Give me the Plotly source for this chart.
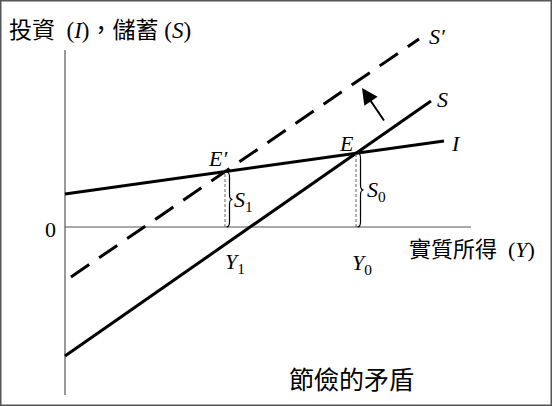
import plotly.graph_objects as go

# values (income on x, investment / saving on y)
inc_I = [0, 37.9]
invest = [3.3, 8.6]
inc_S = [0, 36.6]
saving = [-12.9, 12.6]
inc_S2 = [0.6, 35.4]
saving2 = [-5.0, 18.8]

# equilibria: E (Y0, S0) and E' (Y1, S1)
eq_Y = [29.1, 16.0]
eq_S = [7.4, 5.5]

serif = "Liberation Serif, Times New Roman, serif"
cjk = "Noto Sans CJK TC, Noto Sans CJK SC, sans-serif"

fig = go.Figure()

# axes drawn as thin lines
fig.add_trace(go.Scatter(x=[0, 0], y=[17.7, -16.8], mode="lines",
                         line=dict(color="#555555", width=1.2), hoverinfo="skip"))
fig.add_trace(go.Scatter(x=[0, 40.6], y=[0, 0], mode="lines",
                         line=dict(color="#555555", width=1.2), hoverinfo="skip"))

# saving / investment schedules
fig.add_trace(go.Scatter(x=inc_I, y=invest, mode="lines",
                         line=dict(color="black", width=3), hoverinfo="skip"))
fig.add_trace(go.Scatter(x=inc_S, y=saving, mode="lines",
                         line=dict(color="black", width=3), hoverinfo="skip"))
fig.add_trace(go.Scatter(x=inc_S2, y=saving2, mode="lines",
                         line=dict(color="black", width=3, dash="22px,12px"),
                         hoverinfo="skip"))

# dashed drop lines and braces
for yx, sv in zip(eq_Y, eq_S):
    fig.add_trace(go.Scatter(x=[yx, yx], y=[0, sv], mode="lines",
                             line=dict(color="#666666", width=1, dash="3px,2px"),
                             hoverinfo="skip"))
    xb = yx + 0.15
    w = 0.3
    mid = sv / 2
    d = 0.5
    path = (f"M {xb},{sv} Q {xb+w},{sv} {xb+w},{sv-d} L {xb+w},{mid+d} "
            f"Q {xb+w},{mid} {xb+2*w},{mid} Q {xb+w},{mid} {xb+w},{mid-d} "
            f"L {xb+w},{d} Q {xb+w},0 {xb},0")
    fig.add_shape(type="path", path=path, xref="x", yref="y",
                  line=dict(color="black", width=1.2))

# shift arrow
fig.add_annotation(x=29.7, y=13.9, ax=32.0, ay=10.5, xref="x", yref="y",
                   axref="x", ayref="y", text="", showarrow=True,
                   arrowhead=2, arrowsize=1.6, arrowwidth=2, arrowcolor="black")

labels = [
    ("0", -1.5, -0.2),
    ("<i>E′</i>", 15.3, 6.9),
    ("<i>E</i>", 28.1, 8.4),
    ("<i>S′</i>", 37.2, 19.1),
    ("<i>S</i>", 37.7, 12.8),
    ("<i>I</i>", 39.1, 8.4),
    ("<i>S</i><sub>1</sub>", 17.8, 2.6),
    ("<i>S</i><sub>0</sub>", 31.1, 3.6),
    ("<i>Y</i><sub>1</sub>", 17.0, -3.6),
    ("<i>Y</i><sub>0</sub>", 29.7, -3.7),
]
for txt, lx, ly in labels:
    fig.add_annotation(x=lx, y=ly, xref="x", yref="y", text=txt, showarrow=False,
                       font=dict(family=serif, size=22, color="black"))

# titles
fig.add_annotation(x=0.013, y=0.932, xref="paper", yref="paper", xanchor="left",
                   yanchor="middle", showarrow=False,
                   text="<span style='font-family:Noto Sans CJK TC'>投資</span>"
                        "  (<i>I</i>)<span style='font-family:Noto Sans CJK TC'>，儲蓄</span> (<i>S</i>)",
                   font=dict(family=serif, size=23, color="black"))
fig.add_annotation(x=0.737, y=0.391, xref="paper", yref="paper", xanchor="left",
                   yanchor="middle", showarrow=False,
                   text="<span style='font-family:Noto Sans CJK TC'>實質所得</span>  (<i>Y</i>)",
                   font=dict(family=serif, size=22, color="black"))
fig.add_annotation(x=0.637, y=0.069, xref="paper", yref="paper", xanchor="center",
                   yanchor="middle", showarrow=False, text="節儉的矛盾",
                   font=dict(family=cjk, size=25, color="black"))

# outer frame
fig.add_shape(type="rect", xref="paper", yref="paper", x0=0, y0=0, x1=1, y1=1,
              line=dict(color="#555555", width=3))

fig.update_layout(
    width=552, height=406,
    margin=dict(l=0, r=0, t=0, b=0),
    paper_bgcolor="white", plot_bgcolor="white",
    showlegend=False,
    xaxis=dict(range=[-6.5, 48.7], visible=False),
    yaxis=dict(range=[-17.9, 22.7], visible=False),
)

fig.write_html("out.html", config={"displayModeBar": False},
               post_script="document.body.style.margin='0';"
                           "document.body.style.overflow='hidden';")
